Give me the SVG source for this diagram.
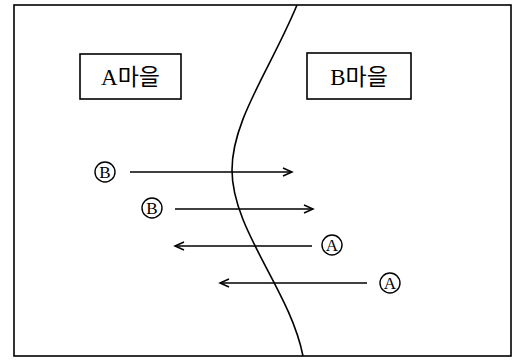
<svg xmlns="http://www.w3.org/2000/svg" width="515" height="361" viewBox="0 0 515 361">
<style>
.ln{stroke:#000;stroke-width:1.6;fill:none}
.bx{stroke:#000;stroke-width:1.6;fill:#fff}
.lbl{font-family:"Liberation Serif","Noto Sans CJK KR",serif;font-size:23px;fill:#000;text-anchor:middle}
.ci{stroke:#000;stroke-width:1.4;fill:#fff}
.cl{font-family:"Liberation Serif",serif;font-size:17px;fill:#000;text-anchor:middle}
</style>
<defs>
<marker id="ah" markerWidth="12" markerHeight="10" refX="10" refY="5" orient="auto" markerUnits="userSpaceOnUse">
<path d="M1,1 L10,5 L1,9" fill="none" stroke="#000" stroke-width="1.5"/>
</marker>
</defs>
<rect x="14" y="5" width="497" height="351" class="ln"/>
<path class="ln" d="M297,5 C270,70 232,120 232,170 C232,230 290,290 303,356"/>
<g id="nodeA"><rect x="80" y="54" width="101" height="45" class="bx"/><text x="130.5" y="85" class="lbl">A마을</text></g>
<g id="nodeB"><rect x="307" y="53" width="104" height="46" class="bx"/><text x="359" y="85" class="lbl">B마을</text></g>
<g id="connectors">
<line x1="130" y1="172" x2="292" y2="172" class="ln" marker-end="url(#ah)"/>
<line x1="175" y1="209" x2="313" y2="209" class="ln" marker-end="url(#ah)"/>
<line x1="312" y1="246" x2="175" y2="246" class="ln" marker-end="url(#ah)"/>
<line x1="367" y1="283" x2="220" y2="283" class="ln" marker-end="url(#ah)"/>
</g>
<g id="label1"><circle cx="105" cy="172" r="10" class="ci"/><text x="105" y="178" class="cl">B</text></g>
<g id="label2"><circle cx="152" cy="208" r="10" class="ci"/><text x="152" y="214" class="cl">B</text></g>
<g id="label3"><circle cx="332" cy="245" r="10" class="ci"/><text x="332" y="251" class="cl">A</text></g>
<g id="label4"><circle cx="390" cy="283" r="10" class="ci"/><text x="390" y="289" class="cl">A</text></g>
</svg>
